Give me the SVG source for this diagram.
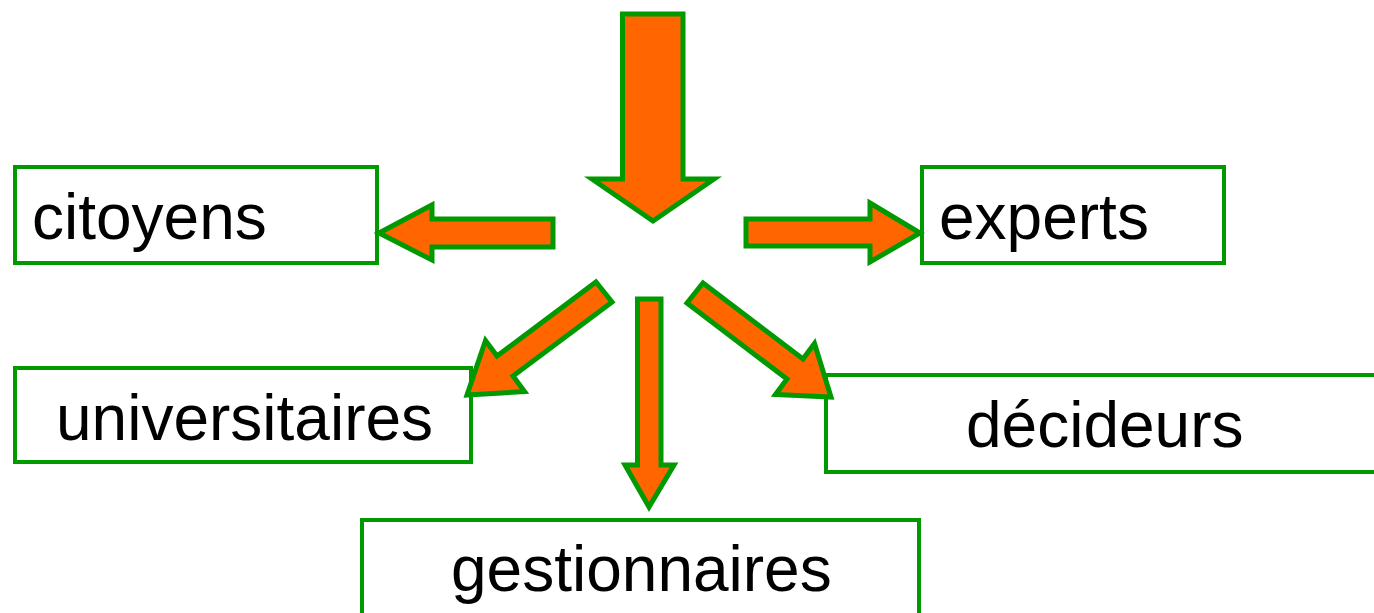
<svg xmlns="http://www.w3.org/2000/svg" width="1374" height="613" viewBox="0 0 1374 613">
<style>
.box{fill:#ffffff;stroke:#009900;stroke-width:4}
.arr{fill:#FF6600;stroke:#009900;stroke-width:5;stroke-linejoin:miter;stroke-miterlimit:10}
.lbl{font-family:"Liberation Sans",Arial,sans-serif;font-size:64px;fill:#000000}
</style>
<rect width="1374" height="613" fill="#ffffff"/>
<g id="citoyens"><rect class="box" x="15" y="167" width="362" height="96"/><text class="lbl" x="32" y="239">citoyens</text></g>
<g id="experts"><rect class="box" x="922" y="167" width="302" height="96"/><text class="lbl" x="939" y="239">experts</text></g>
<g id="universitaires"><rect class="box" x="15" y="368" width="456" height="94"/><text class="lbl" x="56" y="440">universitaires</text></g>
<g id="decideurs"><rect class="box" x="826" y="375" width="560" height="97"/><text class="lbl" x="966" y="447">décideurs</text></g>
<g id="gestionnaires"><rect class="box" x="362" y="520" width="557" height="120"/><text class="lbl" x="451" y="591">gestionnaires</text></g>
<g id="connectors">
<polygon class="arr" points="622.5,14 683,14 683,179 714,179 653,221 592,179 622.5,179"/>
<polygon class="arr" points="553,219 553,247 432,247 432,260 379,233 432,205 432,219"/>
<polygon class="arr" points="746,219 870,219 870,203 920,233 870,262 870,246 746,246"/>
<polygon class="arr" points="596,282 612,302 513,376 524.5,391.5 467,395 485.5,340.5 497,356"/>
<polygon class="arr" points="703,283 803,359 814.5,343.5 831,397 775.5,394.5 787,379 687,303"/>
<polygon class="arr" points="637.5,299 661,299 661,465 674,465 649,507 625,465 637.5,465"/>
</g>
</svg>
